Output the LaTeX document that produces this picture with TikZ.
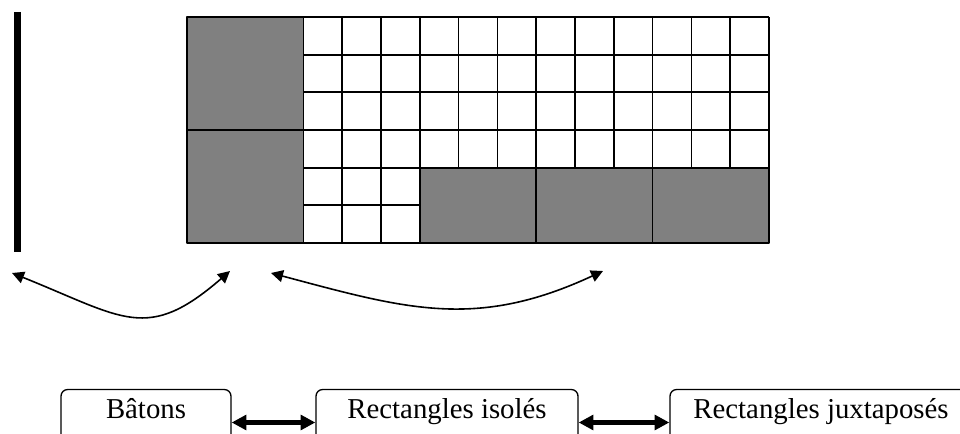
\documentclass[tikz,border=0pt]{standalone}
\usepackage{fontspec}
\setmainfont{Liberation Serif}
\usetikzlibrary{arrows.meta}
\tikzset{
	etiquette/.style={draw, rounded corners=5pt, line width=1pt, inner xsep=0pt, inner ysep=0pt,
		text height=21.75pt, text depth=27.75pt, font=\fontsize{21.6pt}{26pt}\selectfont},
	lien/.style={{Triangle[length=11pt,width=11pt]}-{Triangle[length=11pt,width=11pt]}, line width=3.4pt},
	courbe/.style={{Triangle[length=9pt,width=9pt]}-{Triangle[length=9pt,width=9pt]}, line width=1.2pt}
}
\begin{document}
\begin{tikzpicture}[x=0.75pt,y=-0.75pt,line join=round]
				\useasboundingbox (0,0) rectangle (960,434);
				\clip (0,0) rectangle (960,434);
				% baton
				\draw[line width=5.2pt,line cap=butt] (17.5,12)--(17.5,252);
				% quadrillage
				\begin{scope}[shift={(187,17)},x=29.1pt,y=-28.25pt,line width=1.3pt]
					\foreach \i in {0,...,15}{\draw(\i,0)--(\i,6);}
					\foreach \j in {0,...,6}{\draw(0,\j)--(15,\j);}
					\foreach \a/\b/\c/\d in {0/0/3/3, 0/3/3/6, 6/4/9/6, 9/4/12/6, 12/4/15/6}{
						\draw[fill=gray](\a,\b) rectangle (\c,\d);}
				\end{scope}
				% fleches courbes
				\coordinate (G1) at (12,273);
				\coordinate (G2) at (230,271);
				\coordinate (D1) at (271,273);
				\coordinate (D2) at (603,271);
				\draw[courbe](G1) .. controls (124,318) and (147,343) .. (G2);
				\draw[courbe](D1) .. controls (406,309) and (476,330) .. (D2);
				% etiquettes
				\node[etiquette, minimum width=127.5pt] (bat) at (146,422.5) {Bâtons};
				\node[etiquette, minimum width=196.5pt] (iso) at (447,422.5) {Rectangles isolés};
				\node[etiquette, minimum width=226.5pt] (jux) at (821,422.5) {Rectangles juxtaposés};
				\draw[lien](bat)--(iso);
				\draw[lien](iso)--(jux);
			\end{tikzpicture}
\end{document}
